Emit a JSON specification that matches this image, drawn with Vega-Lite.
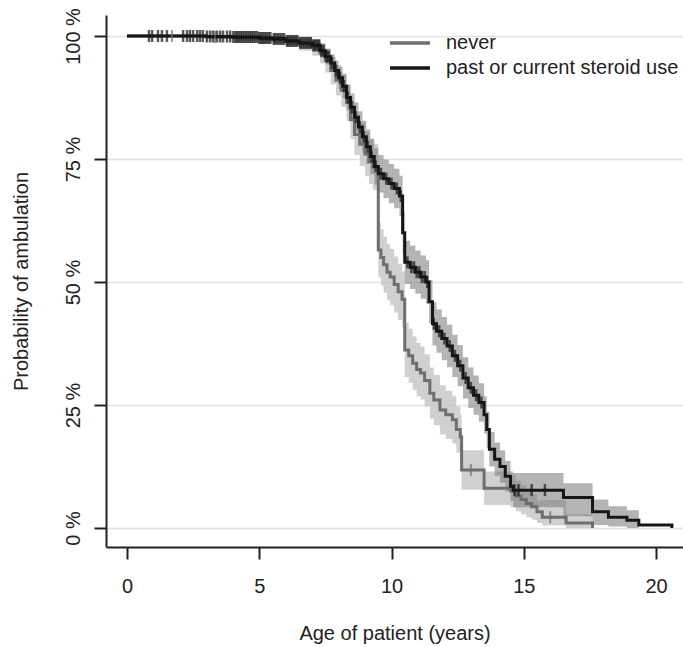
{
  "$schema": "https://vega.github.io/schema/vega-lite/v6.json",
  "width": 577,
  "height": 532,
  "autosize": "none",
  "padding": {"left": 106, "top": 15, "right": 0, "bottom": 100},
  "background": "white",
  "config": {
    "view": {"stroke": null},
    "font": "Liberation Sans",
    "axis": {"labelFont": "Liberation Sans", "titleFont": "Liberation Sans", "labelColor": "#222", "titleColor": "#222", "titleFontWeight": "normal"},
    "legend": {"labelFont": "Liberation Sans"}
  },
  "datasets": {
    "curves": [
      {"group": "never", "t": 0, "p": 100, "lo": 100, "hi": 100},
      {"group": "never", "t": 3.0, "p": 99.8, "lo": 99.4, "hi": 100},
      {"group": "never", "t": 4.0, "p": 99.7, "lo": 99.1, "hi": 100},
      {"group": "never", "t": 5.0, "p": 99.5, "lo": 98.6, "hi": 100},
      {"group": "never", "t": 6.0, "p": 99.0, "lo": 97.8, "hi": 100},
      {"group": "never", "t": 6.5, "p": 98.5, "lo": 97.0, "hi": 99.8},
      {"group": "never", "t": 7.0, "p": 97.8, "lo": 96.0, "hi": 99.4},
      {"group": "never", "t": 7.3, "p": 96.5, "lo": 94.4, "hi": 98.6},
      {"group": "never", "t": 7.5, "p": 95.0, "lo": 92.6, "hi": 97.4},
      {"group": "never", "t": 7.7, "p": 93.0, "lo": 90.2, "hi": 95.8},
      {"group": "never", "t": 7.9, "p": 91.0, "lo": 87.9, "hi": 94.1},
      {"group": "never", "t": 8.1, "p": 89.0, "lo": 85.6, "hi": 92.4},
      {"group": "never", "t": 8.3, "p": 86.5, "lo": 82.8, "hi": 90.2},
      {"group": "never", "t": 8.45, "p": 83.0, "lo": 79.0, "hi": 87.0},
      {"group": "never", "t": 8.6, "p": 80.0, "lo": 75.8, "hi": 84.2},
      {"group": "never", "t": 8.8, "p": 78.0, "lo": 73.6, "hi": 82.4},
      {"group": "never", "t": 9.0, "p": 76.0, "lo": 71.5, "hi": 80.5},
      {"group": "never", "t": 9.15, "p": 74.5, "lo": 69.9, "hi": 79.1},
      {"group": "never", "t": 9.3, "p": 73.4, "lo": 68.7, "hi": 78.1},
      {"group": "never", "t": 9.5, "p": 56.5, "lo": 50.9, "hi": 62.1},
      {"group": "never", "t": 9.6, "p": 55.0, "lo": 49.3, "hi": 60.7},
      {"group": "never", "t": 9.7, "p": 53.5, "lo": 47.8, "hi": 59.2},
      {"group": "never", "t": 9.83, "p": 52.0, "lo": 46.3, "hi": 57.7},
      {"group": "never", "t": 9.95, "p": 51.0, "lo": 45.3, "hi": 56.7},
      {"group": "never", "t": 10.1, "p": 49.5, "lo": 43.8, "hi": 55.2},
      {"group": "never", "t": 10.25, "p": 48.0, "lo": 42.3, "hi": 53.7},
      {"group": "never", "t": 10.4, "p": 46.5, "lo": 40.8, "hi": 52.2},
      {"group": "never", "t": 10.5, "p": 36.2, "lo": 30.7, "hi": 41.7},
      {"group": "never", "t": 10.65, "p": 35.0, "lo": 29.5, "hi": 40.5},
      {"group": "never", "t": 10.8, "p": 33.5, "lo": 28.1, "hi": 38.9},
      {"group": "never", "t": 10.95, "p": 32.2, "lo": 26.8, "hi": 37.6},
      {"group": "never", "t": 11.1, "p": 31.5, "lo": 26.1, "hi": 36.9},
      {"group": "never", "t": 11.25, "p": 30.0, "lo": 24.7, "hi": 35.3},
      {"group": "never", "t": 11.45, "p": 27.4, "lo": 22.2, "hi": 32.6},
      {"group": "never", "t": 11.6, "p": 26.0, "lo": 20.9, "hi": 31.1},
      {"group": "never", "t": 11.83, "p": 24.0, "lo": 19.0, "hi": 29.0},
      {"group": "never", "t": 12.05, "p": 23.0, "lo": 18.1, "hi": 27.9},
      {"group": "never", "t": 12.3, "p": 22.0, "lo": 17.2, "hi": 26.8},
      {"group": "never", "t": 12.45, "p": 20.0, "lo": 15.3, "hi": 24.7},
      {"group": "never", "t": 12.6, "p": 18.5, "lo": 13.9, "hi": 23.1},
      {"group": "never", "t": 12.65, "p": 11.8, "lo": 7.8, "hi": 15.8},
      {"group": "never", "t": 13.5, "p": 8.1, "lo": 4.7, "hi": 11.5},
      {"group": "never", "t": 14.5, "p": 7.5, "lo": 4.2, "hi": 10.8},
      {"group": "never", "t": 14.7, "p": 6.5, "lo": 3.4, "hi": 9.6},
      {"group": "never", "t": 14.9, "p": 5.8, "lo": 2.8, "hi": 8.8},
      {"group": "never", "t": 15.1, "p": 5.0, "lo": 2.2, "hi": 7.8},
      {"group": "never", "t": 15.3, "p": 4.3, "lo": 1.7, "hi": 6.9},
      {"group": "never", "t": 15.5, "p": 3.3, "lo": 1.0, "hi": 5.6},
      {"group": "never", "t": 15.7, "p": 2.2, "lo": 0.5, "hi": 5.7},
      {"group": "never", "t": 16.6, "p": 1.0, "lo": 0, "hi": 2.8},
      {"group": "never", "t": 17.6, "p": 0, "lo": 0, "hi": 0},
      {"group": "past or current steroid use", "t": 0, "p": 100, "lo": 100, "hi": 100},
      {"group": "past or current steroid use", "t": 3.0, "p": 99.9, "lo": 99.7, "hi": 100},
      {"group": "past or current steroid use", "t": 4.0, "p": 99.8, "lo": 99.4, "hi": 100},
      {"group": "past or current steroid use", "t": 5.0, "p": 99.6, "lo": 99.0, "hi": 100},
      {"group": "past or current steroid use", "t": 5.5, "p": 99.4, "lo": 98.7, "hi": 100},
      {"group": "past or current steroid use", "t": 6.0, "p": 99.0, "lo": 98.2, "hi": 99.8},
      {"group": "past or current steroid use", "t": 6.5, "p": 98.6, "lo": 97.6, "hi": 99.5},
      {"group": "past or current steroid use", "t": 7.0, "p": 98.1, "lo": 96.9, "hi": 99.2},
      {"group": "past or current steroid use", "t": 7.3, "p": 97.0, "lo": 95.6, "hi": 98.4},
      {"group": "past or current steroid use", "t": 7.5, "p": 95.8, "lo": 94.2, "hi": 97.4},
      {"group": "past or current steroid use", "t": 7.7, "p": 94.5, "lo": 92.7, "hi": 96.3},
      {"group": "past or current steroid use", "t": 7.85, "p": 93.0, "lo": 91.0, "hi": 95.0},
      {"group": "past or current steroid use", "t": 8.0, "p": 91.5, "lo": 89.3, "hi": 93.7},
      {"group": "past or current steroid use", "t": 8.15, "p": 89.8, "lo": 87.4, "hi": 92.2},
      {"group": "past or current steroid use", "t": 8.3, "p": 87.5, "lo": 84.9, "hi": 90.1},
      {"group": "past or current steroid use", "t": 8.45, "p": 85.5, "lo": 82.7, "hi": 88.3},
      {"group": "past or current steroid use", "t": 8.6, "p": 83.5, "lo": 80.5, "hi": 86.5},
      {"group": "past or current steroid use", "t": 8.75, "p": 81.5, "lo": 78.3, "hi": 84.7},
      {"group": "past or current steroid use", "t": 8.9, "p": 79.5, "lo": 76.2, "hi": 82.8},
      {"group": "past or current steroid use", "t": 9.05, "p": 77.5, "lo": 74.0, "hi": 81.0},
      {"group": "past or current steroid use", "t": 9.2, "p": 75.5, "lo": 71.9, "hi": 79.1},
      {"group": "past or current steroid use", "t": 9.35, "p": 73.5, "lo": 69.8, "hi": 77.2},
      {"group": "past or current steroid use", "t": 9.5, "p": 72.0, "lo": 68.2, "hi": 75.8},
      {"group": "past or current steroid use", "t": 9.7, "p": 71.0, "lo": 67.1, "hi": 74.9},
      {"group": "past or current steroid use", "t": 9.9, "p": 70.0, "lo": 66.0, "hi": 74.0},
      {"group": "past or current steroid use", "t": 10.1, "p": 69.0, "lo": 65.0, "hi": 73.0},
      {"group": "past or current steroid use", "t": 10.3, "p": 67.5, "lo": 63.4, "hi": 71.6},
      {"group": "past or current steroid use", "t": 10.42, "p": 60.0, "lo": 55.7, "hi": 64.3},
      {"group": "past or current steroid use", "t": 10.5, "p": 54.0, "lo": 49.6, "hi": 58.4},
      {"group": "past or current steroid use", "t": 10.7, "p": 53.0, "lo": 48.6, "hi": 57.4},
      {"group": "past or current steroid use", "t": 10.9, "p": 52.0, "lo": 47.6, "hi": 56.4},
      {"group": "past or current steroid use", "t": 11.1, "p": 51.0, "lo": 46.6, "hi": 55.4},
      {"group": "past or current steroid use", "t": 11.3, "p": 50.0, "lo": 45.6, "hi": 54.4},
      {"group": "past or current steroid use", "t": 11.42, "p": 46.0, "lo": 41.6, "hi": 50.4},
      {"group": "past or current steroid use", "t": 11.55, "p": 41.5, "lo": 37.1, "hi": 45.9},
      {"group": "past or current steroid use", "t": 11.7, "p": 40.0, "lo": 35.6, "hi": 44.4},
      {"group": "past or current steroid use", "t": 11.9, "p": 38.5, "lo": 34.1, "hi": 42.9},
      {"group": "past or current steroid use", "t": 12.1, "p": 37.0, "lo": 32.7, "hi": 41.3},
      {"group": "past or current steroid use", "t": 12.3, "p": 35.0, "lo": 30.7, "hi": 39.3},
      {"group": "past or current steroid use", "t": 12.5, "p": 33.0, "lo": 28.8, "hi": 37.2},
      {"group": "past or current steroid use", "t": 12.7, "p": 30.5, "lo": 26.3, "hi": 34.7},
      {"group": "past or current steroid use", "t": 12.9, "p": 28.5, "lo": 24.4, "hi": 32.6},
      {"group": "past or current steroid use", "t": 13.1, "p": 27.0, "lo": 23.0, "hi": 31.0},
      {"group": "past or current steroid use", "t": 13.3, "p": 25.5, "lo": 21.6, "hi": 29.4},
      {"group": "past or current steroid use", "t": 13.5, "p": 23.0, "lo": 19.2, "hi": 26.8},
      {"group": "past or current steroid use", "t": 13.6, "p": 20.0, "lo": 16.3, "hi": 23.7},
      {"group": "past or current steroid use", "t": 13.7, "p": 16.0, "lo": 12.5, "hi": 19.5},
      {"group": "past or current steroid use", "t": 13.9, "p": 14.0, "lo": 10.6, "hi": 17.4},
      {"group": "past or current steroid use", "t": 14.1, "p": 12.5, "lo": 9.2, "hi": 15.8},
      {"group": "past or current steroid use", "t": 14.3, "p": 10.5, "lo": 7.4, "hi": 13.6},
      {"group": "past or current steroid use", "t": 14.5, "p": 8.5, "lo": 5.5, "hi": 11.5},
      {"group": "past or current steroid use", "t": 14.6, "p": 7.7, "lo": 4.2, "hi": 11.2},
      {"group": "past or current steroid use", "t": 16.5, "p": 6.2, "lo": 2.4, "hi": 9.1},
      {"group": "past or current steroid use", "t": 17.6, "p": 3.3, "lo": 0.6, "hi": 5.8},
      {"group": "past or current steroid use", "t": 18.2, "p": 2.2, "lo": 0.3, "hi": 4.4},
      {"group": "past or current steroid use", "t": 18.9, "p": 1.6, "lo": 0, "hi": 3.6},
      {"group": "past or current steroid use", "t": 19.35, "p": 0.6, "lo": 0.6, "hi": 0.6},
      {"group": "past or current steroid use", "t": 20.6, "p": 0, "lo": 0, "hi": 0}
    ],
    "censor": [
      {"group": "never", "t": 1.7, "p": 100},
      {"group": "never", "t": 3.33, "p": 99.8},
      {"group": "never", "t": 13.0, "p": 11.8},
      {"group": "never", "t": 16.0, "p": 2.2},
      {"group": "steroid", "t": 0.83, "p": 100},
      {"group": "steroid", "t": 0.95, "p": 100},
      {"group": "steroid", "t": 1.17, "p": 100},
      {"group": "steroid", "t": 1.32, "p": 100},
      {"group": "steroid", "t": 1.51, "p": 100},
      {"group": "steroid", "t": 2.12, "p": 100},
      {"group": "steroid", "t": 2.27, "p": 100},
      {"group": "steroid", "t": 2.38, "p": 100},
      {"group": "steroid", "t": 2.5, "p": 100},
      {"group": "steroid", "t": 2.65, "p": 100},
      {"group": "steroid", "t": 2.76, "p": 100},
      {"group": "steroid", "t": 2.87, "p": 100},
      {"group": "steroid", "t": 3.02, "p": 99.9},
      {"group": "steroid", "t": 3.14, "p": 99.9},
      {"group": "steroid", "t": 3.25, "p": 99.9},
      {"group": "steroid", "t": 3.4, "p": 99.9},
      {"group": "steroid", "t": 3.52, "p": 99.9},
      {"group": "steroid", "t": 3.63, "p": 99.9},
      {"group": "steroid", "t": 3.78, "p": 99.9},
      {"group": "steroid", "t": 3.9, "p": 99.9},
      {"group": "steroid", "t": 4.02, "p": 99.8},
      {"group": "steroid", "t": 4.1, "p": 99.8},
      {"group": "steroid", "t": 4.16, "p": 99.8},
      {"group": "steroid", "t": 4.23, "p": 99.8},
      {"group": "steroid", "t": 4.3, "p": 99.8},
      {"group": "steroid", "t": 4.36, "p": 99.8},
      {"group": "steroid", "t": 4.43, "p": 99.8},
      {"group": "steroid", "t": 4.5, "p": 99.8},
      {"group": "steroid", "t": 4.57, "p": 99.8},
      {"group": "steroid", "t": 4.64, "p": 99.8},
      {"group": "steroid", "t": 4.7, "p": 99.8},
      {"group": "steroid", "t": 4.77, "p": 99.8},
      {"group": "steroid", "t": 4.84, "p": 99.8},
      {"group": "steroid", "t": 4.92, "p": 99.8},
      {"group": "steroid", "t": 5.0, "p": 99.6},
      {"group": "steroid", "t": 5.07, "p": 99.6},
      {"group": "steroid", "t": 5.14, "p": 99.6},
      {"group": "steroid", "t": 5.21, "p": 99.6},
      {"group": "steroid", "t": 5.28, "p": 99.6},
      {"group": "steroid", "t": 5.35, "p": 99.6},
      {"group": "steroid", "t": 5.42, "p": 99.6},
      {"group": "steroid", "t": 5.55, "p": 99.4},
      {"group": "steroid", "t": 5.62, "p": 99.4},
      {"group": "steroid", "t": 5.7, "p": 99.4},
      {"group": "steroid", "t": 5.78, "p": 99.4},
      {"group": "steroid", "t": 5.86, "p": 99.4},
      {"group": "steroid", "t": 5.94, "p": 99.4},
      {"group": "steroid", "t": 6.05, "p": 99.0},
      {"group": "steroid", "t": 6.12, "p": 99.0},
      {"group": "steroid", "t": 6.2, "p": 99.0},
      {"group": "steroid", "t": 6.28, "p": 99.0},
      {"group": "steroid", "t": 6.36, "p": 99.0},
      {"group": "steroid", "t": 6.44, "p": 99.0},
      {"group": "steroid", "t": 6.55, "p": 98.6},
      {"group": "steroid", "t": 6.63, "p": 98.6},
      {"group": "steroid", "t": 6.71, "p": 98.6},
      {"group": "steroid", "t": 6.79, "p": 98.6},
      {"group": "steroid", "t": 6.87, "p": 98.6},
      {"group": "steroid", "t": 6.95, "p": 98.6},
      {"group": "steroid", "t": 7.05, "p": 98.1},
      {"group": "steroid", "t": 7.12, "p": 98.1},
      {"group": "steroid", "t": 7.2, "p": 98.1},
      {"group": "steroid", "t": 7.27, "p": 98.1},
      {"group": "steroid", "t": 7.35, "p": 97.0},
      {"group": "steroid", "t": 7.43, "p": 97.0},
      {"group": "steroid", "t": 7.55, "p": 95.8},
      {"group": "steroid", "t": 7.63, "p": 95.8},
      {"group": "steroid", "t": 7.75, "p": 94.5},
      {"group": "steroid", "t": 7.9, "p": 93.0},
      {"group": "steroid", "t": 8.05, "p": 91.5},
      {"group": "steroid", "t": 8.2, "p": 89.8},
      {"group": "steroid", "t": 8.35, "p": 87.5},
      {"group": "steroid", "t": 8.5, "p": 85.5},
      {"group": "steroid", "t": 8.65, "p": 83.5},
      {"group": "steroid", "t": 8.8, "p": 81.5},
      {"group": "steroid", "t": 8.95, "p": 79.5},
      {"group": "steroid", "t": 9.1, "p": 77.5},
      {"group": "steroid", "t": 9.25, "p": 75.5},
      {"group": "steroid", "t": 9.4, "p": 73.5},
      {"group": "steroid", "t": 9.6, "p": 72.0},
      {"group": "steroid", "t": 9.8, "p": 71.0},
      {"group": "steroid", "t": 10.0, "p": 70.0},
      {"group": "steroid", "t": 10.2, "p": 69.0},
      {"group": "steroid", "t": 10.35, "p": 67.5},
      {"group": "steroid", "t": 10.6, "p": 54.0},
      {"group": "steroid", "t": 10.75, "p": 53.0},
      {"group": "steroid", "t": 10.85, "p": 53.0},
      {"group": "steroid", "t": 10.95, "p": 52.0},
      {"group": "steroid", "t": 11.05, "p": 52.0},
      {"group": "steroid", "t": 11.15, "p": 51.0},
      {"group": "steroid", "t": 11.25, "p": 51.0},
      {"group": "steroid", "t": 11.35, "p": 50.0},
      {"group": "steroid", "t": 11.6, "p": 41.5},
      {"group": "steroid", "t": 11.8, "p": 40.0},
      {"group": "steroid", "t": 12.0, "p": 38.5},
      {"group": "steroid", "t": 12.2, "p": 37.0},
      {"group": "steroid", "t": 12.4, "p": 35.0},
      {"group": "steroid", "t": 12.6, "p": 33.0},
      {"group": "steroid", "t": 12.8, "p": 30.5},
      {"group": "steroid", "t": 13.0, "p": 28.5},
      {"group": "steroid", "t": 13.2, "p": 27.0},
      {"group": "steroid", "t": 13.4, "p": 25.5},
      {"group": "steroid", "t": 14.65, "p": 7.7},
      {"group": "steroid", "t": 14.8, "p": 7.7},
      {"group": "steroid", "t": 15.3, "p": 7.7},
      {"group": "steroid", "t": 15.8, "p": 7.7}
    ]
  },
  "encoding": {
    "x": {"field": "t", "type": "quantitative", "scale": {"domain": [-0.794, 21.02], "nice": false, "zero": false},
      "axis": {"values": [0, 5, 10, 15, 20], "grid": false, "tickSize": 12, "tickWidth": 2, "tickColor": "#222", "domainColor": "#222", "domainWidth": 2, "labelFontSize": 20, "labelPadding": 17, "title": "Age of patient (years)", "titleFontSize": 20, "titlePadding": 27}},
    "y": {"field": "p", "type": "quantitative", "scale": {"domain": [-3.86, 104.27], "nice": false, "zero": false},
      "axis": {"values": [0, 25, 50, 75, 100], "labelExpr": "datum.value + ' %'", "grid": true, "gridColor": "#e2e2e2", "gridWidth": 1.5, "tickSize": 12, "tickWidth": 2, "tickColor": "#222", "domainColor": "#222", "domainWidth": 2, "labelFontSize": 20, "labelAngle": -90, "labelAlign": "center", "labelBaseline": "bottom", "labelPadding": 11, "title": "Probability of ambulation", "titleFontSize": 20, "titlePadding": 32}}
  },
  "layer": [
    {
      "data": {"name": "curves"},
      "transform": [{"filter": "datum.group === 'never'"}],
      "mark": {"type": "area", "interpolate": "step-after", "color": "#c4c4c4", "opacity": 0.8},
      "encoding": {"y": {"field": "lo", "type": "quantitative"}, "y2": {"field": "hi"}}
    },
    {
      "data": {"name": "curves"},
      "transform": [{"filter": "datum.group !== 'never'"}],
      "mark": {"type": "area", "interpolate": "step-after", "color": "#777777", "opacity": 0.55},
      "encoding": {"y": {"field": "lo", "type": "quantitative"}, "y2": {"field": "hi"}}
    },
    {
      "data": {"name": "curves"},
      "mark": {"type": "line", "interpolate": "step-after", "strokeWidth": 3},
      "encoding": {
        "color": {"field": "group", "type": "nominal",
          "scale": {"domain": ["never", "past or current steroid use"], "range": ["#6e6e6e", "#161616"]},
          "legend": {"title": null, "orient": "none", "legendX": 292, "legendY": 16, "symbolType": "M-2,0L2,0", "symbolSize": 400, "symbolStrokeWidth": 3.5, "labelFontSize": 20, "labelColor": "#222", "labelOffset": 24, "labelLimit": 0, "rowPadding": 3, "padding": 0}}
      }
    },
    {
      "data": {"name": "censor"},
      "transform": [{"filter": "datum.group === 'never'"}],
      "mark": {"type": "tick", "orient": "vertical", "size": 12, "thickness": 2, "color": "#6e6e6e"},
      "encoding": {}
    },
    {
      "data": {"name": "censor"},
      "transform": [{"filter": "datum.group !== 'never'"}],
      "mark": {"type": "tick", "orient": "vertical", "size": 12, "thickness": 2.5, "color": "#161616"},
      "encoding": {}
    },
    {
      "data": {"values": [{}]},
      "mark": {"type": "rule", "color": "#222", "strokeWidth": 2},
      "encoding": {"y": {"datum": 104.27}, "x": {"value": 0}, "x2": {"value": 577}}
    }
  ]
}
